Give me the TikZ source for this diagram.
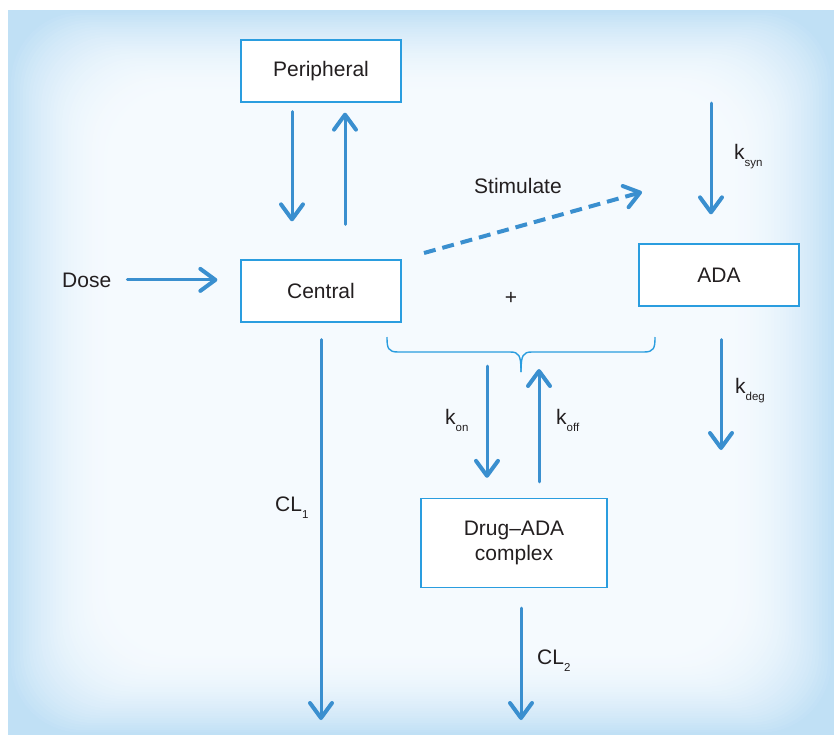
\documentclass[tikz,border=0pt]{standalone}
\usepackage{fontspec}
\setmainfont{Liberation Sans}
\usetikzlibrary{arrows.meta}

\definecolor{panelblue}{HTML}{C0E0F5}
\definecolor{panelcore}{HTML}{F5FAFE}
\definecolor{flowblue}{HTML}{3A8FCF}
\definecolor{boxblue}{HTML}{2A9DDF}
\definecolor{inkgray}{HTML}{231F20}

\newcommand{\rateidx}[2]{#1\raisebox{-7.5pt}{\fontsize{11.5}{11.5}\selectfont #2}}

\tikzset{
  compartment/.style={draw=boxblue, line width=1.3pt, fill=white, text=inkgray,
    minimum width=160pt, minimum height=62pt, inner sep=0pt},
  lbl/.style={text=inkgray, inner sep=0pt},
  flow/.style={draw=flowblue, line width=3pt, line cap=round,
    -{Straight Barb[length=15pt,width=22pt,line width=4pt,round]}},
  stim/.style={draw=flowblue, line width=4pt, dash pattern=on 12pt off 7pt,
    -{Straight Barb[length=15pt,width=22pt,line width=4pt,round]}},
  bracestyle/.style={draw=boxblue, line width=1.4pt}
}

\begin{document}
\begin{tikzpicture}[x=1pt, y=-1pt, font=\fontsize{21}{25}\selectfont]
  \useasboundingbox (0,0) rectangle (836,742);

  % background panel
  \fill[panelblue] (8,10) rectangle (834,735);
  \foreach \i [evaluate=\i as \pct using {100*(1-(1-\i/36)^2)}] in {1,...,36}
    \fill[panelcore!\pct!panelblue, rounded corners=70pt]
      ({8+\i*3},{10+\i*2.4}) rectangle ({834-\i*3},{735-\i*2.4});

  % compartments
  \node[compartment] (peri) at (321,71) {Peripheral};
  \node[compartment] (central) at (321,291) {Central};
  \node[compartment] (ada) at (719,275) {ADA};
  \node[compartment, minimum width=186pt, minimum height=89pt, align=center]
    (complex) at (514,543) {Drug--ADA\\complex};

  % labels
  \node[lbl, anchor=base west] (dose) at (62,287) {Dose};
  \node[lbl, anchor=base west] (stimlbl) at (474,193) {Stimulate};
  \node[lbl] (plus) at (511,298) {+};
  \node[lbl, anchor=base west] (ksyn) at (734,159) {\rateidx{k}{syn}};
  \node[lbl, anchor=base west] (kdeg) at (735,393) {\rateidx{k}{deg}};
  \node[lbl, anchor=base west] (kon) at (445,424) {\rateidx{k}{on}};
  \node[lbl, anchor=base west] (koff) at (556,424) {\rateidx{k}{off}};
  \node[lbl, anchor=base west] (cl1) at (275,511) {\rateidx{CL}{1}};
  \node[lbl, anchor=base west] (cl2) at (537,664) {\rateidx{CL}{2}};

  % free ends
  \coordinate (stimfoot) at (424,253);
  \coordinate (stimtip) at (642,192);
  \coordinate (synsrc) at (711,103);
  \coordinate (degsink) at (721,450);
  \coordinate (onsrc) at (487,366);
  \coordinate (offtip) at (539,369);
  \coordinate (cl1sink) at (321,720);
  \coordinate (cl2sink) at (521,720);
  \coordinate (bracetip) at (521,372);

  % connectors
  \draw[flow, shorten <=16pt, shorten >=23pt] (dose.east) -- (dose.east -| central.west);
  \draw[flow, shorten <=9pt, shorten >=38pt] ([xshift=-29pt]peri.south) -- ([xshift=-29pt]central.north);
  \draw[flow, shorten <=35pt, shorten >=10pt] ([xshift=24pt]central.north) -- ([xshift=24pt]peri.south);
  \draw[stim] (stimfoot) -- (stimtip);
  \draw[flow, shorten >=29pt] (synsrc) -- (synsrc |- ada.north);
  \draw[flow, shorten <=33pt] (degsink |- ada.south) -- (degsink);
  \draw[flow, shorten >=20pt] (onsrc) -- (onsrc |- complex.north);
  \draw[flow, shorten <=16pt] (offtip |- complex.north) -- (offtip);
  \draw[flow, shorten <=17pt] (central.south) -- (cl1sink);
  \draw[flow, shorten <=20pt] (cl2sink |- complex.south) -- (cl2sink);

  % brace joining drug and ADA
  \draw[bracestyle] (387,337) .. controls (387,348) and (388,352) .. (398,352)
    -- (510,352) .. controls (519,352) and (521,355) .. (bracetip);
  \draw[bracestyle] (655,337) .. controls (655,348) and (654,352) .. (644,352)
    -- (532,352) .. controls (523,352) and (521,355) .. (bracetip);
\end{tikzpicture}
\end{document}
